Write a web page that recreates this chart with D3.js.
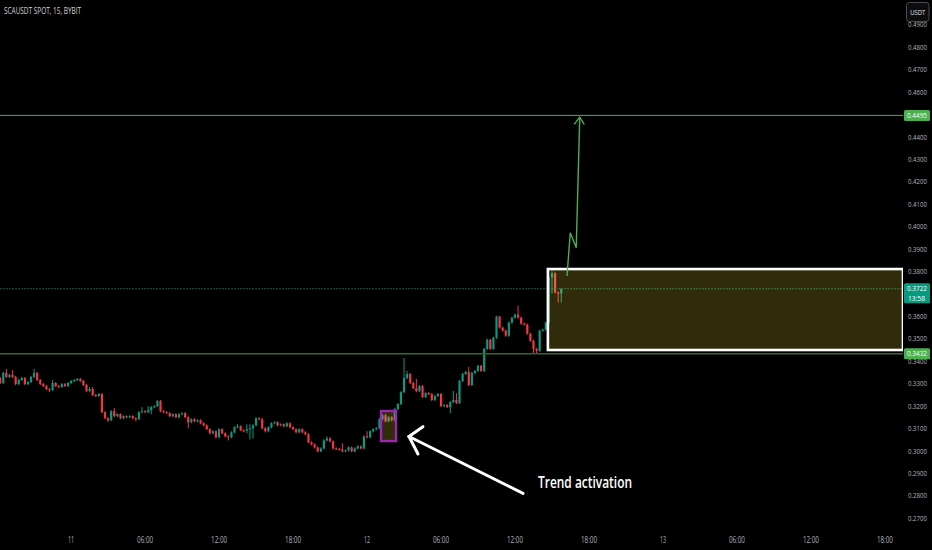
<!DOCTYPE html>
<html><head><meta charset="utf-8">
<script src="https://cdn.jsdelivr.net/npm/d3@7"></script>
<style>html,body{margin:0;padding:0;background:#000;overflow:hidden}</style>
</head><body><svg id="c" width="932" height="550"></svg>
<script>
// ---------------- DATA ----------------
const title = "SCAUSDT SPOT, 15, BYBIT";
const quoteCurrency = "USDT";
const firstBarTime = "2024-09-10T18:15";   // 15-minute bars
const viewStart = "2024-09-10T18:14";
const viewEnd = "2024-09-13T19:28";

const opens = [.3324,.3302,.3347,.3329,.3338,.3329,.3297,.3315,.3324,.3297,
.3306,.3329,.3347,.3315,.3297,.3288,.3275,.3270,.3302,.3288,
.3284,.3297,.3288,.3302,.3311,.3315,.3320,.3311,.3293,.3266,
.3275,.3248,.3244,.3253,.3172,.3145,.3136,.3176,.3154,.3163,
.3145,.3154,.3149,.3154,.3145,.3140,.3172,.3176,.3172,.3181,
.3194,.3199,.3221,.3176,.3172,.3167,.3154,.3163,.3149,.3163,
.3167,.3149,.3127,.3140,.3131,.3136,.3122,.3113,.3096,.3078,
.3087,.3060,.3096,.3078,.3064,.3060,.3082,.3105,.3109,.3091,
.3089,.3096,.3100,.3113,.3145,.3140,.3100,.3087,.3105,.3122,
.3127,.3113,.3118,.3109,.3122,.3105,.3096,.3082,.3096,.3082,
.3073,.3037,.3028,.3015,.2997,.3010,.3046,.3055,.3042,.3010,
.3008,.3006,.2997,.3001,.3015,.2997,.3010,.3019,.3010,.3064,
.3060,.3087,.3096,.3100,.3140,.3158,.3131,.3149,.3136,.3185,
.3208,.3261,.3324,.3342,.3302,.3279,.3266,.3288,.3239,.3257,
.3253,.3226,.3244,.3253,.3199,.3203,.3194,.3217,.3226,.3212,
.3311,.3342,.3351,.3293,.3347,.3356,.3378,.3356,.3454,.3495,
.3454,.3504,.3598,.3549,.3535,.3513,.3571,.3593,.3607,.3593,
.3567,.3562,.3522,.3490,.3454,.3445,.3535,.3540,.3571,.3773,
.3791,.3706,.3701];

const highs = [.3329,.3352,.3365,.3343,.3360,.3334,.3320,.3329,.3329,.3311,
.3334,.3365,.3352,.3320,.3302,.3293,.3279,.3315,.3306,.3293,
.3302,.3302,.3306,.3315,.3320,.3324,.3324,.3315,.3297,.3284,
.3284,.3253,.3257,.3257,.3176,.3149,.3181,.3190,.3167,.3167,
.3158,.3158,.3158,.3158,.3149,.3176,.3194,.3181,.3199,.3199,
.3203,.3226,.3226,.3181,.3176,.3172,.3167,.3167,.3167,.3172,
.3172,.3154,.3145,.3145,.3140,.3140,.3127,.3118,.3100,.3091,
.3091,.3100,.3100,.3082,.3069,.3087,.3109,.3118,.3113,.3096,
.3118,.3118,.3118,.3149,.3149,.3145,.3105,.3109,.3127,.3131,
.3131,.3122,.3122,.3127,.3127,.3109,.3100,.3100,.3100,.3087,
.3078,.3042,.3033,.3019,.3015,.3051,.3064,.3060,.3046,.3015,
.3013,.3033,.3006,.3019,.3019,.3015,.3024,.3024,.3069,.3087,
.3091,.3100,.3105,.3145,.3163,.3163,.3154,.3154,.3190,.3212,
.3266,.3414,.3356,.3347,.3306,.3320,.3293,.3293,.3261,.3261,
.3257,.3248,.3257,.3257,.3208,.3208,.3221,.3266,.3257,.3315,
.3347,.3356,.3374,.3351,.3360,.3383,.3383,.3459,.3499,.3499,
.3508,.3602,.3602,.3553,.3540,.3575,.3598,.3611,.3647,.3598,
.3571,.3567,.3526,.3495,.3459,.3540,.3544,.3575,.3777,.3800,
.3795,.3710,.3726];

const lows = [.3297,.3297,.3324,.3324,.3324,.3292,.3292,.3311,.3292,.3292,
.3302,.3324,.3311,.3293,.3284,.3270,.3261,.3266,.3284,.3279,
.3279,.3284,.3284,.3297,.3306,.3311,.3306,.3288,.3261,.3261,
.3244,.3239,.3239,.3167,.3140,.3127,.3131,.3149,.3149,.3140,
.3140,.3145,.3145,.3140,.3131,.3136,.3167,.3167,.3167,.3163,
.3190,.3194,.3172,.3167,.3163,.3149,.3149,.3145,.3145,.3158,
.3145,.3100,.3122,.3127,.3127,.3118,.3109,.3091,.3073,.3073,
.3055,.3055,.3073,.3060,.3046,.3055,.3078,.3100,.3087,.3082,
.3078,.3051,.3055,.3109,.3136,.3096,.3082,.3082,.3100,.3118,
.3109,.3109,.3105,.3105,.3100,.3091,.3078,.3078,.3078,.3069,
.3033,.3024,.3010,.2993,.2993,.3006,.3042,.3037,.3006,.3004,
.3001,.2993,.2993,.2997,.2993,.2993,.3006,.3006,.3006,.3055,
.3055,.3082,.3091,.3096,.3136,.3127,.3127,.3131,.3131,.3181,
.3203,.3257,.3320,.3297,.3275,.3261,.3261,.3235,.3235,.3248,
.3221,.3221,.3239,.3194,.3194,.3190,.3167,.3212,.3208,.3208,
.3306,.3338,.3288,.3288,.3342,.3351,.3351,.3351,.3450,.3450,
.3450,.3499,.3544,.3531,.3508,.3508,.3567,.3589,.3589,.3562,
.3558,.3517,.3486,.3436,.3432,.3441,.3531,.3535,.3567,.3701,
.3701,.3661,.3661];

const closes = [.3302,.3347,.3329,.3338,.3329,.3297,.3315,.3324,.3297,.3306,
.3329,.3347,.3315,.3297,.3288,.3275,.3270,.3302,.3288,.3284,
.3297,.3288,.3302,.3311,.3315,.3320,.3311,.3293,.3266,.3275,
.3248,.3244,.3253,.3172,.3145,.3136,.3176,.3154,.3163,.3145,
.3154,.3149,.3154,.3145,.3140,.3172,.3176,.3172,.3181,.3194,
.3199,.3221,.3176,.3172,.3167,.3154,.3163,.3149,.3163,.3167,
.3149,.3127,.3140,.3131,.3136,.3122,.3113,.3096,.3078,.3087,
.3060,.3096,.3078,.3064,.3060,.3082,.3105,.3109,.3091,.3089,
.3096,.3100,.3113,.3145,.3140,.3100,.3087,.3105,.3122,.3127,
.3113,.3118,.3109,.3122,.3105,.3096,.3082,.3096,.3082,.3073,
.3037,.3028,.3015,.2997,.3010,.3046,.3055,.3042,.3010,.3008,
.3006,.2997,.3001,.3015,.2997,.3010,.3019,.3010,.3064,.3060,
.3087,.3096,.3100,.3140,.3158,.3131,.3149,.3136,.3185,.3208,
.3261,.3324,.3342,.3302,.3279,.3266,.3288,.3239,.3257,.3253,
.3226,.3244,.3253,.3199,.3203,.3194,.3217,.3226,.3212,.3311,
.3342,.3351,.3293,.3347,.3356,.3378,.3356,.3454,.3495,.3454,
.3504,.3598,.3549,.3535,.3513,.3571,.3593,.3607,.3593,.3567,
.3562,.3522,.3490,.3454,.3445,.3535,.3540,.3571,.3773,.3791,
.3706,.3701,.3722];

const priceTicks = [0.27,0.28,0.29,0.30,0.31,0.32,0.33,0.34,0.35,0.36,0.37,0.38,0.39,0.40,0.41,0.42,0.43,0.44,0.45,0.46,0.47,0.48,0.49];
const targetLevel = 0.4495;
const supportLevel = 0.3432;
const lastPrice = 0.3722;
const countdown = "13:58";

// drawings: [time, price]
const zoneBox = {t0: "2024-09-12T14:40", p0: 0.3810, p1: 0.3449};       // extends right
const triggerBox = {t0: "2024-09-12T01:08", t1: "2024-09-12T02:21", p0: 0.3177, p1: 0.3043};
const greenArrowPath = [["2024-09-12T16:13",0.3779],["2024-09-12T16:29",0.3972],["2024-09-12T16:58",0.3905],["2024-09-12T17:15",0.4487]];
const greenArrowHead = [["2024-09-12T16:48",0.4455],["2024-09-12T17:15",0.4487],["2024-09-12T17:37",0.4455]];
const whiteArrowLine = [["2024-09-12T12:39",0.28096],["2024-09-12T03:24",0.30634]];
const whiteArrowHead = [["2024-09-12T04:32",0.31071],["2024-09-12T03:24",0.30634],["2024-09-12T04:08",0.29853]];
const noteText = "Trend activation";
const notePos = ["2024-09-12T13:52", 0.28338];

// ---------------- CHART ----------------
const parse = d3.timeParse("%Y-%m-%dT%H:%M");
const svg = d3.select("#c");
const W = 932, H = 550, plotR = 903, plotB = 530;
const FONT = "Open Sans, sans-serif";
svg.append("rect").attr("width", W).attr("height", H).attr("fill", "#000");

const x = d3.scaleTime().domain([parse(viewStart), parse(viewEnd)]).range([0, plotR]);
const y = d3.scaleLinear().domain([0.27 - 12/2242.9, 0.27 + 518/2242.9]).range([plotB, 0]);

const t0 = parse(firstBarTime);
const bars = closes.map((c, i) => ({t: d3.timeMinute.offset(t0, 15*i), o: opens[i], h: highs[i], l: lows[i], c}));

svg.append("defs").append("clipPath").attr("id", "plot")
  .append("rect").attr("x", 0).attr("y", 0).attr("width", plotR).attr("height", plotB);
const g = svg.append("g").attr("clip-path", "url(#plot)");

const up = "#089981", dn = "#f23645";
const cg = g.append("g");
cg.selectAll(".w").data(bars).join("rect")
  .attr("x", d => x(d.t) - 0.5).attr("width", 1)
  .attr("y", d => y(d.h)).attr("height", d => Math.max(1, y(d.l) - y(d.h)))
  .attr("fill", d => d.c >= d.o ? up : dn);
cg.selectAll(".b").data(bars).join("rect")
  .attr("x", d => x(d.t) - 1.1).attr("width", 2.2)
  .attr("y", d => y(Math.max(d.o, d.c))).attr("height", d => Math.max(1, Math.abs(y(d.o) - y(d.c))))
  .attr("fill", d => d.c >= d.o ? up : dn);

// horizontal levels
g.append("line").attr("x1", 0).attr("x2", plotR).attr("y1", y(targetLevel)).attr("y2", y(targetLevel))
  .attr("stroke", "#4caf50").attr("stroke-width", 1);
g.append("line").attr("x1", 0).attr("x2", plotR).attr("y1", y(supportLevel)).attr("y2", y(supportLevel))
  .attr("stroke", "#2a6e2e").attr("stroke-width", 1.6);
g.append("line").attr("x1", 0).attr("x2", plotR).attr("y1", y(lastPrice)).attr("y2", y(lastPrice))
  .attr("stroke", "#1c5a3a").attr("stroke-width", 1).attr("stroke-dasharray", "2,1");

// zone boxes
const fillC = "rgba(255,235,59,0.19)";
g.append("rect").attr("x", x(parse(zoneBox.t0))).attr("y", y(zoneBox.p0))
  .attr("width", plotR - x(parse(zoneBox.t0))).attr("height", y(zoneBox.p1) - y(zoneBox.p0))
  .attr("fill", fillC).attr("stroke", "#fff").attr("stroke-width", 2.6);
g.append("rect").attr("x", x(parse(triggerBox.t0))).attr("y", y(triggerBox.p0))
  .attr("width", x(parse(triggerBox.t1)) - x(parse(triggerBox.t0))).attr("height", y(triggerBox.p1) - y(triggerBox.p0))
  .attr("fill", fillC).attr("stroke", "#9c27b0").attr("stroke-width", 2.4);

const line = d3.line().x(d => x(parse(d[0]))).y(d => y(d[1]));
g.append("path").attr("d", line(greenArrowPath)).attr("fill", "none").attr("stroke", "#4caf50").attr("stroke-width", 1.4);
g.append("path").attr("d", line(greenArrowHead)).attr("fill", "none").attr("stroke", "#4caf50").attr("stroke-width", 1.4);
g.append("path").attr("d", line(whiteArrowLine)).attr("fill", "none").attr("stroke", "#fff").attr("stroke-width", 3).attr("stroke-linecap", "round");
g.append("path").attr("d", line(whiteArrowHead)).attr("fill", "none").attr("stroke", "#fff").attr("stroke-width", 3).attr("stroke-linecap", "round");

svg.append("text").attr("x", x(parse(notePos[0]))).attr("y", y(notePos[1]))
  .attr("fill", "#fff").attr("font-family", FONT).attr("font-weight", 600)
  .attr("font-size", 15.5).attr("textLength", 94).attr("lengthAdjust", "spacingAndGlyphs").text(noteText);

// title
svg.append("text").attr("x", 4).attr("y", 14).attr("fill", "#d1d4dc")
  .attr("font-family", FONT).attr("font-size", 8.5)
  .attr("textLength", 77).attr("lengthAdjust", "spacingAndGlyphs").text(title);

// time axis
const fmtDay = d3.timeFormat("%-d"), fmtHM = d3.timeFormat("%H:%M");
const tTicks = x.ticks(d3.timeHour.every(6));
svg.append("g").selectAll("text").data(tTicks).join("text")
  .attr("x", d => x(d)).attr("y", 543).attr("text-anchor", "middle")
  .attr("fill", "#b2b5be").attr("font-family", FONT).attr("font-size", 8.5)
  .attr("textLength", d => d.getHours() === 0 ? 6 : 16).attr("lengthAdjust", "spacingAndGlyphs")
  .text(d => d.getHours() === 0 ? fmtDay(d) : fmtHM(d));

// price axis (a tick hidden under the last-price tag is not drawn, as on the platform)
const fmtP = d3.format(".4f");
const tagMid = y(lastPrice) + 4.5;
svg.append("g").selectAll("text").data(priceTicks.filter(p => Math.abs(y(p) - tagMid) > 12)).join("text")
  .attr("x", 927).attr("y", d => y(d) + 2.8).attr("text-anchor", "end").attr("fill", "#b2b5be")
  .attr("font-family", FONT).attr("font-size", 7.4)
  .attr("textLength", 19).attr("lengthAdjust", "spacingAndGlyphs").text(d => fmtP(d));

function priceTag(p, color, extra) {
  const yy = y(p);
  const h = extra ? 20 : 11;
  svg.append("rect").attr("x", 904).attr("y", yy - 5.5).attr("width", 26).attr("height", h).attr("rx", 1.5).attr("fill", color);
  svg.append("text").attr("x", 927).attr("y", yy + 2.6).attr("text-anchor", "end").attr("fill", "#fff")
    .attr("font-family", FONT).attr("font-size", 7.4)
    .attr("textLength", 20).attr("lengthAdjust", "spacingAndGlyphs").text(fmtP(p));
  if (extra) svg.append("text").attr("x", 925).attr("y", yy + 12.3).attr("text-anchor", "end").attr("fill", "#fff")
    .attr("font-family", FONT).attr("font-size", 6.8)
    .attr("textLength", 17).attr("lengthAdjust", "spacingAndGlyphs").text(extra);
}
priceTag(targetLevel, "#4caf50");
priceTag(supportLevel, "#4caf50");
priceTag(lastPrice, up, countdown);

// currency button
svg.append("rect").attr("x", 906.5).attr("y", 2.5).attr("width", 22.5).attr("height", 19).attr("rx", 3)
  .attr("fill", "#0c0c0c").attr("stroke", "#4a4d57").attr("stroke-width", 1);
svg.append("text").attr("x", 917.7).attr("y", 15).attr("text-anchor", "middle").attr("fill", "#e0e3eb")
  .attr("font-family", FONT).attr("font-size", 8)
  .attr("textLength", 15).attr("lengthAdjust", "spacingAndGlyphs").text(quoteCurrency);
</script></body></html>
